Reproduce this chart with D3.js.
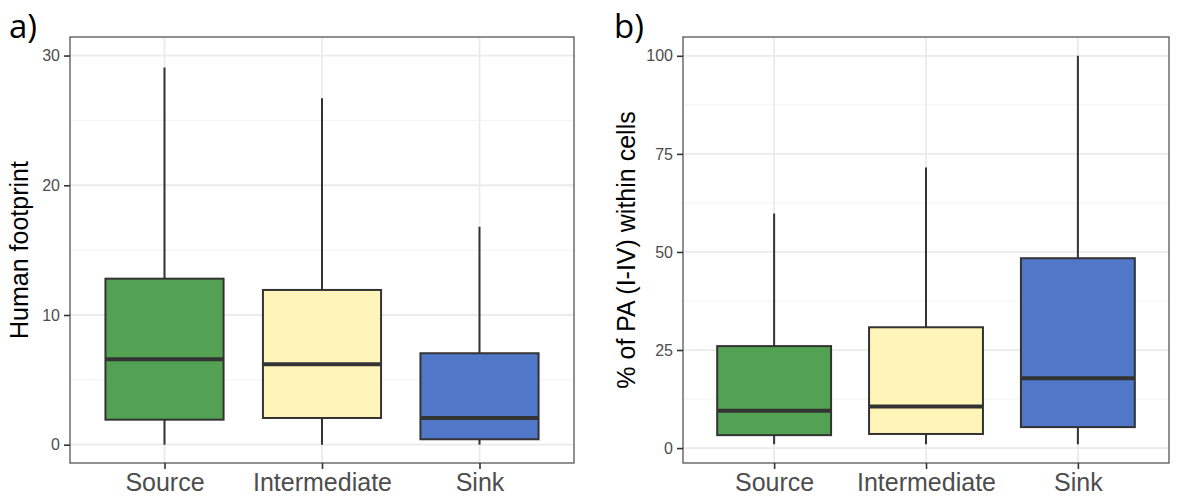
<!DOCTYPE html>
<html>
<head>
    <meta charset="UTF-8">
    <title>boxplots</title>
    <script src="https://cdn.jsdelivr.net/npm/d3@7"></script>
    <style type="text/css">
        body { margin: 0; background: #fff; }
        svg { display: block; }
        .grid-major { stroke: #ebebeb; stroke-width: 1.8px; }
        .grid-minor { stroke: #f2f2f2; stroke-width: 1px; }
        .tick-label { font-family: "Liberation Sans", Arial, sans-serif; fill: #4d4d4d; }
        .axis-title { font-family: "Liberation Sans", Arial, sans-serif; fill: #000; font-size: 25px; }
        .panel-tag { font-family: "Open Sans", "Noto Sans", sans-serif; fill: #000; font-size: 33px; }
    </style>
</head>
<body>
<script>
    var categories = ["Source", "Intermediate", "Sink"];
    var boxColors = ["#53a153", "#fff5b9", "#5178c8"];

    // [lower whisker, Q1, median, Q3, upper whisker]
    var footprintStats = [
        [0, 1.93, 6.58, 12.8, 29.07],
        [0, 2.06, 6.2, 11.93, 26.7],
        [0, 0.42, 2.06, 7.05, 16.8]
    ];
    var footprintTicks = [0, 10, 20, 30];

    var paStats = [
        [1.0, 3.3, 9.5, 26.0, 59.8],
        [1.0, 3.6, 10.6, 30.8, 71.5],
        [1.0, 5.35, 17.8, 48.4, 100]
    ];
    var paTicks = [0, 25, 50, 75, 100];

    var width = 1200, height = 498;

    var svg = d3.select("body").append("svg")
        .attr("width", width)
        .attr("height", height);

    renderPanel({
        left: 70, right: 574, top: 37, bottom: 463,
        domain: [-1.41, 31.43],
        ticks: footprintTicks,
        stats: footprintStats,
        title: "Human footprint",
        titleX: 28,
        tag: "a)", tagX: 9
    });

    renderPanel({
        left: 683, right: 1169, top: 37, bottom: 463,
        domain: [-3.8, 104.8],
        ticks: paTicks,
        stats: paStats,
        title: "% of PA (I-IV) within cells",
        titleX: 635,
        tag: "b)", tagX: 614
    });

    function renderPanel(p){
        var x = d3.scalePoint()
            .domain(categories)
            .range([p.left, p.right])
            .padding(0.6);
        var y = d3.scaleLinear()
            .domain(p.domain)
            .range([p.bottom, p.top]);
        var boxW = x.step() * 0.75;

        var g = svg.append("g");

        // minor grid halfway between major ticks
        var minor = [];
        for (var i = 0; i < p.ticks.length - 1; i++) {
            minor.push((p.ticks[i] + p.ticks[i + 1]) / 2);
        }
        g.selectAll("line.grid-minor")
            .data(minor)
          .enter().append("line")
            .attr("class", "grid-minor")
            .attr("x1", p.left).attr("x2", p.right)
            .attr("y1", function(d){ return y(d); })
            .attr("y2", function(d){ return y(d); });

        g.selectAll("line.grid-major.h")
            .data(p.ticks)
          .enter().append("line")
            .attr("class", "grid-major h")
            .attr("x1", p.left).attr("x2", p.right)
            .attr("y1", function(d){ return y(d); })
            .attr("y2", function(d){ return y(d); });

        g.selectAll("line.grid-major.v")
            .data(categories)
          .enter().append("line")
            .attr("class", "grid-major v")
            .attr("y1", p.top).attr("y2", p.bottom)
            .attr("x1", function(d){ return x(d); })
            .attr("x2", function(d){ return x(d); });

        // boxes
        var boxes = g.selectAll("g.box")
            .data(p.stats)
          .enter().append("g")
            .attr("class", "box");

        boxes.append("line")
            .attr("x1", function(d, i){ return x(categories[i]); })
            .attr("x2", function(d, i){ return x(categories[i]); })
            .attr("y1", function(d){ return y(d[0]); })
            .attr("y2", function(d){ return y(d[4]); })
            .attr("stroke", "#333")
            .attr("stroke-width", 2);

        boxes.append("rect")
            .attr("x", function(d, i){ return x(categories[i]) - boxW / 2; })
            .attr("width", boxW)
            .attr("y", function(d){ return y(d[3]); })
            .attr("height", function(d){ return y(d[1]) - y(d[3]); })
            .attr("fill", function(d, i){ return boxColors[i]; })
            .attr("stroke", "#333")
            .attr("stroke-width", 2);

        boxes.append("line")
            .attr("x1", function(d, i){ return x(categories[i]) - boxW / 2; })
            .attr("x2", function(d, i){ return x(categories[i]) + boxW / 2; })
            .attr("y1", function(d){ return y(d[2]); })
            .attr("y2", function(d){ return y(d[2]); })
            .attr("stroke", "#333")
            .attr("stroke-width", 4);

        // panel border
        g.append("rect")
            .attr("x", p.left).attr("y", p.top)
            .attr("width", p.right - p.left)
            .attr("height", p.bottom - p.top)
            .attr("fill", "none")
            .attr("stroke", "#555")
            .attr("stroke-width", 1.3);

        // axes
        var yAxis = d3.axisLeft(y)
            .tickValues(p.ticks)
            .tickSize(6)
            .tickPadding(4);
        var ya = g.append("g")
            .attr("transform", "translate(" + p.left + ",0)")
            .call(yAxis);
        styleAxis(ya, 16);

        var xAxis = d3.axisBottom(x)
            .tickSize(6)
            .tickPadding(4);
        var xa = g.append("g")
            .attr("transform", "translate(0," + p.bottom + ")")
            .call(xAxis);
        styleAxis(xa, 25);

        g.append("text")
            .attr("class", "axis-title")
            .attr("transform", "translate(" + p.titleX + "," + ((p.top + p.bottom) / 2) + ") rotate(-90)")
            .attr("text-anchor", "middle")
            .text(p.title);

        g.append("text")
            .attr("class", "panel-tag")
            .attr("x", p.tagX)
            .attr("y", 38)
            .text(p.tag);
    }

    function styleAxis(a, size){
        a.select(".domain").remove();
        a.selectAll(".tick line")
            .attr("stroke", "#333")
            .attr("stroke-width", 1.6);
        a.selectAll(".tick text")
            .attr("class", "tick-label")
            .attr("fill", "#4d4d4d")
            .style("font-size", size + "px");
    }
</script>
</body>
</html>
